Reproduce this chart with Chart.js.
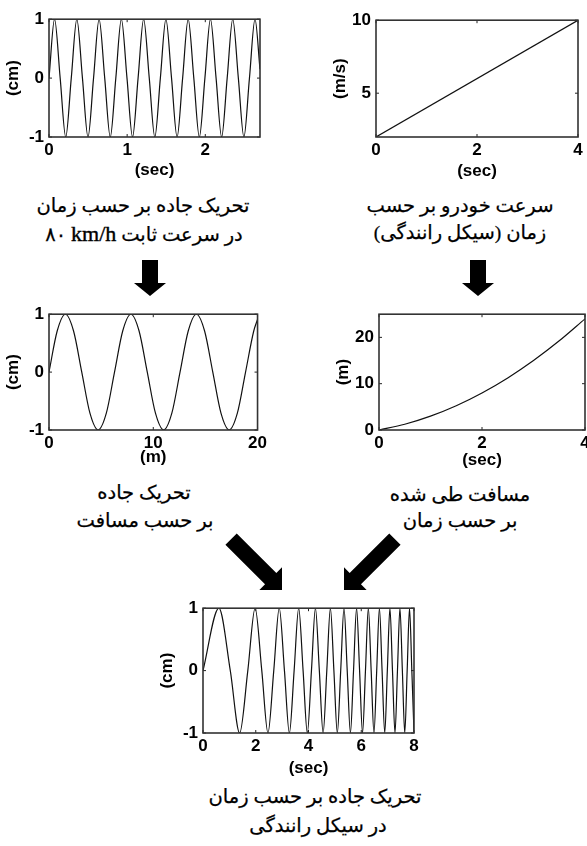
<!DOCTYPE html>
<html>
<head>
<meta charset="utf-8">
<script src="https://cdn.jsdelivr.net/npm/chart.js@4.4.1/dist/chart.umd.min.js"></script>
<style>
  body { margin: 0; background: #fff; width: 587px; height: 846px; position: relative; overflow: hidden; }
  canvas { position: absolute; }
  .cap { position: absolute; direction: rtl; white-space: nowrap; transform: translate(-50%, -50%);
         font-family: "Liberation Serif", "DejaVu Sans", serif; font-size: 19.5px; color: #000; line-height: 1;
         -webkit-text-stroke: 0.25px #000; }
  .cap .lat { font-family: "Liberation Serif", serif; font-size: 22px; -webkit-text-stroke: 0.4px #000; }
  svg { position: absolute; left: 0; top: 0; }
</style>
</head>
<body>
<canvas id="c1"></canvas>
<canvas id="c2"></canvas>
<canvas id="c3"></canvas>
<canvas id="c4"></canvas>
<canvas id="c5"></canvas>

<div class="cap" style="left:143px;top:206px">تحریک جاده بر حسب زمان</div>
<div class="cap" style="left:144px;top:234px">در سرعت ثابت <span class="lat">km/h</span>&rlm; ۸۰</div>
<div class="cap" style="left:460px;top:206px">سرعت خودرو بر حسب</div>
<div class="cap" style="left:460px;top:233px">زمان (سیکل رانندگی)</div>
<div class="cap" style="left:144px;top:493px">تحریک جاده</div>
<div class="cap" style="left:145px;top:521px">بر حسب مسافت</div>
<div class="cap" style="left:460px;top:495px">مسافت طی شده</div>
<div class="cap" style="left:460px;top:521px">بر حسب زمان</div>
<div class="cap" style="left:315px;top:797px">تحریک جاده بر حسب زمان</div>
<div class="cap" style="left:318px;top:826px">در سیکل رانندگی</div>

<svg width="587" height="846">
  <polygon points="142,260 158,260 158,283 166,283 150,296 134,283 142,283" fill="#000"/>
  <polygon points="470,260 486,260 486,283 494,283 478,296 462,283 470,283" fill="#000"/>
  <g transform="translate(282,590) rotate(-45)">
    <polygon points="-8,-72 8,-72 8,-16 16,-16 0,0 -16,-16 -8,-16" fill="#000"/>
  </g>
  <g transform="translate(344,590) rotate(45)">
    <polygon points="-8,-72 8,-72 8,-16 16,-16 0,0 -16,-16 -8,-16" fill="#000"/>
  </g>
</svg>

<script>
// road excitation vs time at constant 80 km/h (cm)
const roadTimeX = [0, 0.071, 0.143, 0.214, 0.285, 0.356, 0.428, 0.499, 0.570, 0.641, 0.713, 0.784, 0.855,
  0.926, 0.998, 1.069, 1.140, 1.211, 1.283, 1.354, 1.425, 1.496, 1.568, 1.639, 1.710, 1.781, 1.853, 1.924,
  1.995, 2.066, 2.138, 2.209, 2.280, 2.351, 2.423, 2.494, 2.565, 2.636, 2.700];
const roadTimeY = [0, 1, 0, -1, 0, 1, 0, -1, 0, 1, 0, -1, 0, 1, 0, -1, 0, 1, 0, -1, 0, 1, 0, -1,
  0, 1, 0, -1, 0, 1, 0, -1, 0, 1, 0, -1, 0, 1, 0.15];

// vehicle speed over the driving cycle (m/s)
const speedX = [0, 4];
const speedY = [2, 10];

// road excitation vs distance (cm)
const roadDistX = [0, 0.785, 1.571, 2.356, 3.142, 3.927, 4.712, 5.498, 6.283, 7.069, 7.854, 8.639, 9.425,
  10.210, 10.996, 11.781, 12.566, 13.352, 14.137, 14.923, 15.708, 16.493, 17.279, 18.064, 18.850, 19.635, 20];
const roadDistY = [0, 0.71, 1, 0.71, 0, -0.71, -1, -0.71, 0, 0.71, 1, 0.71, 0, -0.71, -1, -0.71,
  0, 0.71, 1, 0.71, 0, -0.71, -1, -0.71, 0, 0.71, 0.91];

// distance travelled (m)
const distX = [0, 0.5, 1, 1.5, 2, 2.5, 3, 3.5, 4];
const distY = [0, 1.25, 3, 5.25, 8, 11.25, 15, 19.25, 24];

// road excitation vs time over the driving cycle (cm)
const cycleX = [0, 0.603, 1.035, 1.390, 1.699, 1.976, 2.229, 2.463, 2.683, 2.891, 3.088, 3.275, 3.455,
  3.628, 3.795, 3.956, 4.112, 4.263, 4.411, 4.554, 4.694, 4.830, 4.963, 5.093, 5.221, 5.346, 5.468,
  5.589, 5.707, 5.823, 5.937, 6.049, 6.160, 6.269, 6.376, 6.482, 6.586, 6.689, 6.790, 6.891, 6.989,
  7.087, 7.184, 7.279, 7.373, 7.467, 7.559, 7.650, 7.741, 7.830, 7.918, 8];
const cycleY = [0, 1, 0, -1, 0, 1, 0, -1, 0, 1, 0, -1, 0, 1, 0, -1, 0, 1, 0, -1, 0, 1, 0, -1,
  0, 1, 0, -1, 0, 1, 0, -1, 0, 1, 0, -1, 0, 1, 0, -1, 0, 1, 0, -1, 0, 1, 0, -1, 0, 1, 0, -0.99];

// tick labels
const ticksSec27 = [0, 1, 2];
const ticksSec4 = [0, 2, 4];
const ticksSec8 = [0, 2, 4, 6, 8];
const ticksMeter = [0, 10, 20];
const ticksCm = [-1, 0, 1];
const ticksSpeed = [5, 10];
const ticksDist = [0, 10, 20];

const YW = 48, PT = 12, PR = 12;
const FONT = '"Liberation Sans", Arial, sans-serif';

// box around the plot area plus small inward ticks, matlab style
const frame = {
  id: 'frame',
  afterDraw(chart) {
    const { ctx, chartArea: a, scales } = chart;
    ctx.save();
    ctx.strokeStyle = '#222';
    ctx.lineWidth = 1;
    scales.x.ticks.forEach(t => {
      const p = scales.x.getPixelForValue(t.value);
      ctx.beginPath();
      ctx.moveTo(p, a.bottom); ctx.lineTo(p, a.bottom - 3);
      ctx.moveTo(p, a.top); ctx.lineTo(p, a.top + 3);
      ctx.stroke();
    });
    scales.y.ticks.forEach(t => {
      const p = scales.y.getPixelForValue(t.value);
      ctx.beginPath();
      ctx.moveTo(a.left, p); ctx.lineTo(a.left + 3, p);
      ctx.moveTo(a.right, p); ctx.lineTo(a.right - 3, p);
      ctx.stroke();
    });
    ctx.lineWidth = 1.6;
    ctx.strokeStyle = '#333';
    ctx.strokeRect(a.left, a.top, a.right - a.left, a.bottom - a.top);
    ctx.restore();
  }
};

function plot(id, box, xh, xs, ys, xr, yr, xTicks, yTicks, xTitle, yTitle) {
  const el = document.getElementById(id);
  el.width = box.r - box.l + YW + PR;
  el.height = box.b - box.t + PT + xh;
  el.style.left = (box.l - YW) + 'px';
  el.style.top = (box.t - PT) + 'px';
  const tickFont = { family: FONT, size: 17, weight: 'bold' };
  const titleFont = { family: FONT, size: 17, weight: 'bold', lineHeight: 1.2 };
  return new Chart(el, {
    type: 'line',
    data: {
      datasets: [{
        data: xs.map((x, i) => ({ x: x, y: ys[i] })),
        borderColor: '#111',
        borderWidth: 1.2,
        pointRadius: 0,
        cubicInterpolationMode: 'monotone',
        fill: false
      }]
    },
    options: {
      responsive: false,
      animation: false,
      events: [],
      layout: { padding: { top: PT, right: PR, left: 0, bottom: 0 } },
      plugins: { legend: { display: false }, tooltip: { enabled: false } },
      scales: {
        x: {
          type: 'linear', min: xr[0], max: xr[1],
          afterBuildTicks: s => { s.ticks = xTicks.map(v => ({ value: v })); },
          afterFit: s => { s.height = xh; },
          grid: { display: false, drawTicks: false },
          border: { display: false },
          ticks: { font: tickFont, color: '#000', padding: 3, maxRotation: 0 },
          title: { display: true, text: xTitle, font: titleFont, color: '#000', padding: 0 }
        },
        y: {
          type: 'linear', min: yr[0], max: yr[1],
          afterBuildTicks: s => { s.ticks = yTicks.map(v => ({ value: v })); },
          afterFit: s => { s.width = YW; },
          grid: { display: false, drawTicks: false },
          border: { display: false },
          ticks: { font: tickFont, color: '#000', padding: 5 },
          title: { display: true, text: yTitle, font: titleFont, color: '#000', padding: 2 }
        }
      }
    },
    plugins: [frame]
  });
}

plot('c1', { l: 49, t: 16, r: 260, b: 137 }, 44, roadTimeX, roadTimeY, [0, 2.7], [-1, 1],
  ticksSec27, ticksCm, '(sec)', '(cm)');
plot('c2', { l: 376, t: 17, r: 578, b: 137 }, 45, speedX, speedY, [0, 4], [2, 10],
  ticksSec4, ticksSpeed, '(sec)', '(m/s)');
plot('c3', { l: 49, t: 311, r: 258, b: 430 }, 38, roadDistX, roadDistY, [0, 20], [-1, 1],
  ticksMeter, ticksCm, '(m)', '(cm)');
plot('c4', { l: 379, t: 311, r: 585, b: 430 }, 41, distX, distY, [0, 4], [0, 25],
  ticksSec4, ticksDist, '(sec)', '(m)');
plot('c5', { l: 203, t: 605, r: 414, b: 733 }, 46, cycleX, cycleY, [0, 8], [-1, 1],
  ticksSec8, ticksCm, '(sec)', '(cm)');
</script>
</body>
</html>
